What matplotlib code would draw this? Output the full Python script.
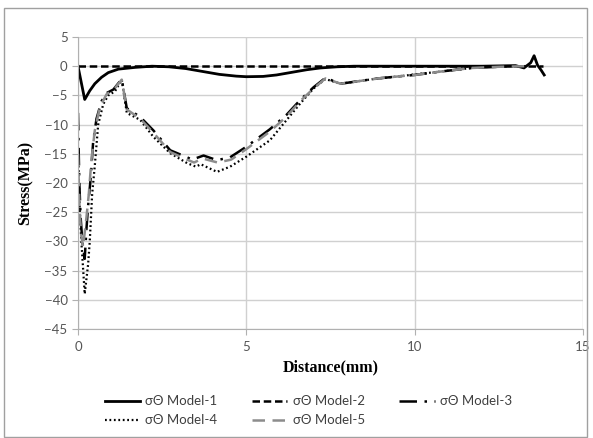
import matplotlib.pyplot as plt
from matplotlib.patches import Rectangle

# Hoop stress along the distance for the five models
x_m1 = [0, 0.2, 0.35, 0.5, 0.7, 0.9, 1.2, 1.7, 2.2, 2.7, 3.2, 3.7, 4.2, 4.7, 5.0, 5.5, 5.9,
        6.3, 6.8, 7.2, 7.7, 8.2, 10.0, 12.0, 13.0, 13.25, 13.45, 13.55, 13.65, 13.75, 13.85]
y_m1 = [0, -5.7, -4.2, -3.0, -1.9, -1.1, -0.5, -0.2, 0, -0.1, -0.4, -0.9, -1.4, -1.7, -1.8,
        -1.75, -1.5, -1.1, -0.6, -0.3, -0.1, 0, 0, 0, 0.1, -0.3, 0.6, 1.8, 0.2, -0.6, -1.5]

x_m2 = [0, 2, 4, 6, 8, 10, 12, 13.8]
y_m2 = [0, 0, 0, 0, 0, 0, 0, 0]

x_m3 = [0, 0.04, 0.08, 0.13, 0.2, 0.25, 0.3, 0.38, 0.45, 0.55, 0.7, 0.85, 1.05, 1.3,
        1.45, 1.85, 2.24, 2.74, 3.24, 3.39, 3.73, 4.13, 4.52, 5.0, 5.7, 6.2, 6.6, 7.0,
        7.35, 7.8, 8.9, 9.6, 10.0, 10.8, 11.7, 12.5, 13.3]
y_m3 = [-8, -20, -26, -30, -33, -28, -24, -19, -13, -9, -6, -4.6, -4.0, -2.2,
        -7.2, -8.7, -11, -14.4, -15.6, -16.0, -15.3, -16.1, -15.6, -13.8, -10.8, -8.3, -5.8, -3.6,
        -2.0, -3.0, -2.1, -1.7, -1.5, -0.9, -0.3, -0.1, 0]

x_m4 = [0, 0.05, 0.1, 0.2, 0.3, 0.35, 0.42, 0.5, 0.6, 0.75, 0.9, 1.1, 1.3,
        1.45, 1.85, 2.24, 2.74, 3.24, 3.5, 3.65, 4.13, 4.52, 5.0, 5.7, 6.6, 7.0,
        7.35, 7.8, 8.9, 9.6, 10.0, 10.8, 11.7, 12.5]
y_m4 = [-14, -24, -30, -39, -34, -30, -22, -17, -10, -6.5, -5.0, -4.3, -2.3,
        -8.0, -9.2, -12.1, -14.9, -16.6, -17.2, -16.8, -18.1, -17.2, -15.5, -12.7, -6.4, -3.8,
        -2.2, -3.0, -2.1, -1.7, -1.4, -0.9, -0.3, 0]

x_m5 = [0, 0.05, 0.1, 0.15, 0.25, 0.32, 0.4, 0.5, 0.65, 0.85, 1.05, 1.3,
        1.45, 1.85, 2.24, 2.74, 3.24, 3.45, 3.7, 4.15, 4.55, 5.0, 5.7, 6.2, 6.6, 7.0,
        7.35, 7.8, 8.9, 9.6, 10.0, 10.8, 11.7, 12.5, 13.3]
y_m5 = [-15, -25, -29, -31, -26, -22, -16, -11, -7, -4.8, -4.1, -2.3,
        -7.4, -9.0, -11.4, -14.7, -16.0, -16.5, -15.8, -16.5, -16.0, -14.2, -11.2, -8.6, -6.0, -3.8,
        -2.1, -3.0, -2.1, -1.7, -1.5, -0.9, -0.3, -0.1, 0]

labels = ['σΘ Model-1', 'σΘ Model-2', 'σΘ Model-3', 'σΘ Model-4', 'σΘ Model-5']

fig = plt.figure(figsize=(5.93, 4.38), dpi=100)
ax = fig.add_axes([0.1315, 0.249, 0.8515, 0.6665])

h1, = ax.plot(x_m1, y_m1, color='black', lw=2.0, label=labels[0])
h2, = ax.plot(x_m2, y_m2, color='black', lw=1.8, dashes=(3, 1.5), label=labels[1])
h3, = ax.plot(x_m3, y_m3, color='black', lw=1.8, dashes=(7, 3, 1, 3), label=labels[2])
h4, = ax.plot(x_m4, y_m4, color='black', lw=1.6, dashes=(0.8, 1.2), label=labels[3])
h5, = ax.plot(x_m5, y_m5, color='#8c8c8c', lw=1.8, dashes=(5, 3), label=labels[4])

ax.set_xlim(0, 15)
ax.set_ylim(-45, 5)
ax.set_xticks([0, 5, 10, 15])
ax.set_yticks(range(-45, 6, 5))
ax.grid(True, color='#d0d0d0', lw=1.0)
ax.set_axisbelow(True)
for side in ['top', 'right']:
    ax.spines[side].set_visible(False)
for side in ['left', 'bottom']:
    ax.spines[side].set_color('#b0b0b0')
ax.tick_params(axis='both', colors='#b0b0b0', labelcolor='#555555', labelsize=9.5,
               length=4, labelfontfamily='Lato')
ax.tick_params(axis='x', pad=5)

ax.set_xlabel('Distance(mm)', fontfamily='Liberation Serif', fontweight='bold',
              fontsize=11.5, labelpad=4)
ax.set_ylabel('Stress(MPa)', fontfamily='Liberation Serif', fontweight='bold',
              fontsize=11.5, labelpad=8)

# Excel style legend, filled row by row
fig.legend([h1, h4, h2, h5, h3], [labels[0], labels[3], labels[1], labels[4], labels[2]],
           ncol=3, loc='upper center', bbox_to_anchor=(0.52, 0.125), frameon=False,
           prop={'family': 'Lato', 'size': 9.5}, labelcolor='#404040',
           handlelength=2.7, columnspacing=2.6, handletextpad=0.4, labelspacing=0.55)

fig.patches.append(Rectangle((0.006, 0.002), 0.984, 0.98, transform=fig.transFigure,
                             fill=False, edgecolor='#a0a0a0', lw=1.0))

fig.savefig('out.png', dpi=100)
